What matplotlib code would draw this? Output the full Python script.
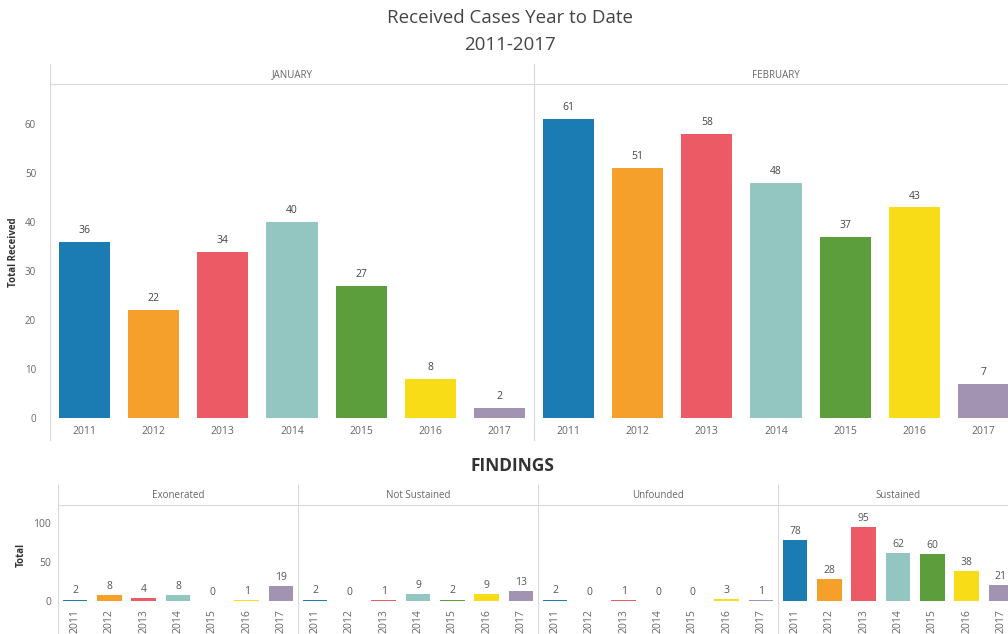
import numpy as np
import matplotlib.pyplot as plt
from matplotlib.lines import Line2D

plt.rcParams['font.family'] = ['Open Sans', 'DejaVu Sans']

# ---------------- dane ----------------
years = ['2011', '2012', '2013', '2014', '2015', '2016', '2017']
year_colors = ['#1b7cb3', '#f5a02a', '#ec5a66', '#93c6c1', '#5c9e3b', '#f8dc18', '#a293b3']

months = ['JANUARY', 'FEBRUARY']
received_jan = [36, 22, 34, 40, 27, 8, 2]
received_feb = [61, 51, 58, 48, 37, 43, 7]

findings = ['Exonerated', 'Not Sustained', 'Unfounded', 'Sustained']
exonerated = [2, 8, 4, 8, 0, 1, 19]
not_sustained = [2, 0, 1, 9, 2, 9, 13]
unfounded = [2, 0, 1, 0, 0, 3, 1]
sustained = [78, 28, 95, 62, 60, 38, 21]

W, H = 1008, 634
fig = plt.figure(figsize=(W / 100, H / 100), dpi=100)

grey_txt = '#666666'
line_col = '#d9d9d9'


def px_axes(x0, y0, x1, y1):
    # piksele -> wspolrzedne figury
    return fig.add_axes([x0 / W, 1 - y1 / H, (x1 - x0) / W, (y1 - y0) / H])


def vline(x, y0, y1):
    fig.add_artist(Line2D([x / W, x / W], [1 - y0 / H, 1 - y1 / H],
                          transform=fig.transFigure, color=line_col, lw=0.8))


fig.text(0.506, 1 - 18 / H, 'Received Cases Year to Date', ha='center', va='center',
         fontsize=13.5, color='#444444')
fig.text(0.506, 1 - 45 / H, '2011-2017', ha='center', va='center',
         fontsize=13.5, color='#444444')

# ---------------- gorny panel ----------------
x = np.arange(len(years))
top_data = [received_jan, received_feb]
panel_w = 484
for i, (m, vals) in enumerate(zip(months, top_data)):
    left = 50 + i * panel_w
    ax = px_axes(left, 84, left + panel_w, 420)
    bars = ax.bar(x, vals, width=0.74, color=year_colors)
    for b, v in zip(bars, vals):
        ax.text(b.get_x() + b.get_width() / 2, v + 1.2, str(v), ha='center', va='bottom',
                fontsize=7.5, color='#444444')
    ax.set_xlim(-0.5, 6.5)
    ax.set_ylim(-0.4, 68.2)
    ax.set_xticks(x, years)
    ax.tick_params(axis='x', length=0, pad=4, labelsize=7.5, labelcolor=grey_txt)
    for s in ['left', 'right', 'bottom']:
        ax.spines[s].set_visible(False)
    ax.spines['top'].set_color(line_col)
    ax.spines['top'].set_linewidth(0.8)
    ax.axhline(-0.4, color=line_col, lw=0.8, ls=':')
    if i == 0:
        ax.set_yticks(range(0, 61, 10))
        ax.tick_params(axis='y', length=0, pad=10, labelsize=7, labelcolor=grey_txt)
        ax.set_ylabel('Total Received', fontsize=7, fontweight='bold', color='#333333', labelpad=4)
    else:
        ax.set_yticks([])
    ax.text(0.5, 1.0 + 9 / 336, m, transform=ax.transAxes, ha='center', va='center',
            fontsize=7, color=grey_txt)
    vline(left, 64, 440)

# ---------------- dolny panel ----------------
fig.text(0.508, 1 - 466 / H, 'FINDINGS', ha='center', va='center',
         fontsize=12.5, fontweight='bold', color='#333333')

bottom_data = [exonerated, not_sustained, unfounded, sustained]
panel_w2 = 240
for i, (f, vals) in enumerate(zip(findings, bottom_data)):
    left = 58 + i * panel_w2
    ax = px_axes(left, 505, left + panel_w2, 605)
    bars = ax.bar(x, vals, width=0.72, color=year_colors)
    for b, v in zip(bars, vals):
        ax.text(b.get_x() + b.get_width() / 2, v + 4, str(v), ha='center', va='bottom',
                fontsize=7.5, color='#555555')
    ax.set_xlim(-0.5, 6.5)
    ax.set_ylim(-5, 123)
    ax.set_xticks(x, years, rotation=90)
    ax.tick_params(axis='x', length=0, pad=3, labelsize=7.5, labelcolor=grey_txt)
    for s in ['left', 'right', 'bottom']:
        ax.spines[s].set_visible(False)
    ax.spines['top'].set_color(line_col)
    ax.spines['top'].set_linewidth(0.8)
    ax.axhline(-5, color=line_col, lw=0.8, ls=':')
    if i == 0:
        ax.set_yticks([0, 50, 100])
        ax.tick_params(axis='y', length=0, pad=5, labelsize=7.5, labelcolor=grey_txt)
        ax.set_ylabel('Total', fontsize=7, fontweight='bold', color='#333333', labelpad=5)
    else:
        ax.set_yticks([])
    ax.text(0.5, 1.0 + 9 / 100, f, transform=ax.transAxes, ha='center', va='center',
            fontsize=7, color=grey_txt)
    vline(left, 485, 634)

plt.savefig('out.png', dpi=100)
